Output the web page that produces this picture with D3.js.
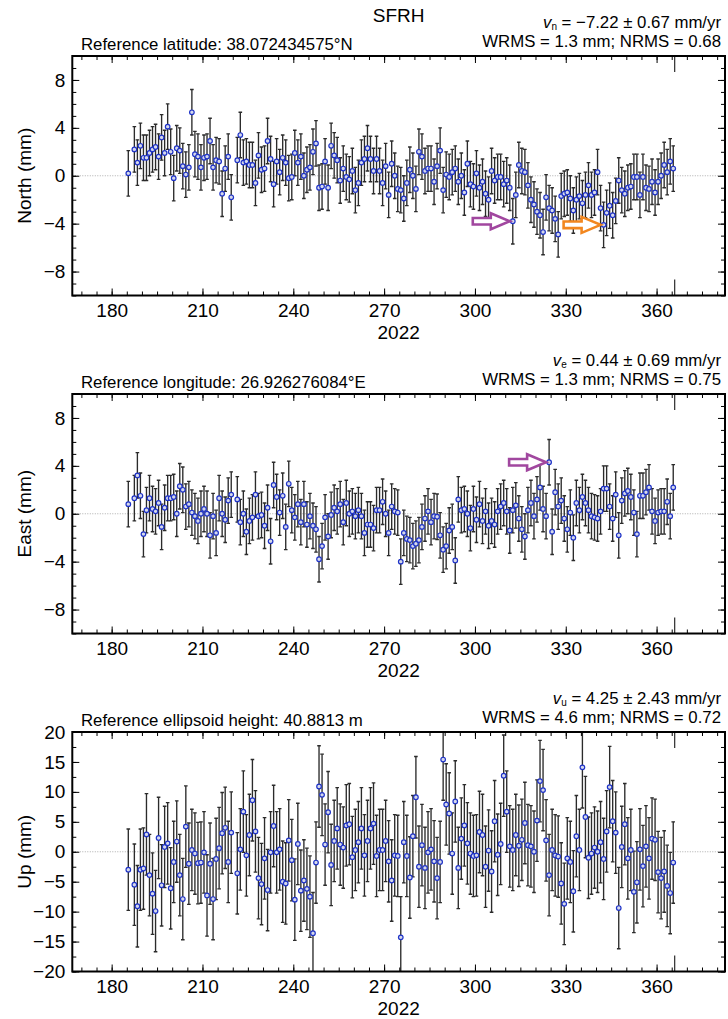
<!DOCTYPE html>
<html>
<head>
<meta charset="utf-8">
<script src="https://cdn.jsdelivr.net/npm/d3@7"></script>
<style>
  body { margin: 0; background: #fff; }
  text { font-family: "Liberation Sans", Arial, Helvetica, sans-serif; }
</style>
</head>
<body>
<div id="chart"></div>
<script>
// daily solutions, first value is day 185 of 2022 (null = no solution that day)
var startDay = 185;

var north = [
  0.2, null, 2.2, 1.1, 2.5, 1.5, 1.5, 1.9, 2.2, 2.4,
  1.6, 3.2, 1.9, 4.1, 2.0, -0.2, 2.3, 2.1, 0.8, 0.1,
  0.7, 5.3, 1.8, 1.6, 0.7, 1.5, 1.6, 2.9, 0.7, 1.3,
  1.2, -1.5, 0.6, 1.6, -1.8, null, 1.3, 3.4, 1.1, 1.2,
  0.9, 0.9, -0.6, 1.7, 0.5, 0.6, 2.9, 1.4, -0.7, 1.2,
  0.3, 1.5, 1.1, -0.2, -0.1, 1.9, 1.1, 1.6, 0.0, 0.5,
  0.7, 2.0, 2.7, -1.0, -0.9, 1.2, -1.0, 2.5, 1.7, 1.3,
  -0.4, 0.6, -0.1, -0.3, 0.4, -1.2, -0.6, 1.1, 1.4, 2.3,
  1.4, 0.4, 1.4, 0.4, -0.6, 0.8, -1.6, 1.0, 0.0, -1.1,
  -1.2, -1.9, -0.6, 0.5, 0.0, -1.1, 2.0, 1.6, 0.4, 0.6,
  0.6, -0.5, 0.8, 2.1, -1.2, 0.1, -0.1, 0.3, 0.6, -0.5,
  0.0, -1.4, 1.0, -0.7, -0.9, 0.2, -1.0, -0.5, -1.5, -2.0,
  0.4, -0.4, -0.1, -0.1, -0.7, -0.4, -1.0, -3.8, -1.6, 0.9,
  0.4, 0.3, -0.8, -2.0, -2.4, -3.0, -3.3, -4.7, -1.8, -2.7,
  -2.9, -3.6, -4.9, -1.7, -1.5, -1.4, -1.9, -2.9, -2.0, -1.7,
  -2.3, -1.6, -0.8, -1.6, -1.4, 0.3, -2.7, -4.1, -3.1, -2.5,
  -3.3, -2.1, -0.4, -1.2, -1.5, -1.0, -0.9, -0.1, -0.1, -1.6,
  -0.1, -1.0, -1.1, -0.5, -1.4, -0.5, 0.0, 0.9, 0.3, 1.2,
  0.6
];

var east = [
  0.8, null, 1.3, 3.2, 1.5, -1.7, 0.3, 1.3, 0.4, 0.2,
  0.9, -1.1, 0.5, 1.3, 1.3, 1.4, 0.0, 2.3, 2.0, 0.6,
  0.8, 0.1, -0.2, -0.6, 0.0, 0.4, 0.0, -1.8, -0.2, -1.6,
  1.3, 0.0, -0.5, 1.1, 1.6, null, 1.2, -0.7, 0.0, -1.5,
  -0.6, -0.3, 1.6, -0.2, -0.1, -1.0, 0.5, -2.3, 2.4, 1.4,
  0.1, 1.5, -1.1, 2.5, 0.3, -0.3, 0.8, -0.7, 0.8, -0.9,
  -0.2, -1.0, -1.3, -3.8, -2.7, -0.3, -1.9, -0.1, 0.5, 0.2,
  0.8, -0.7, 0.9, 0.0, 0.2, -0.2, 0.3, -0.2, -1.6, -0.9,
  -0.9, -1.2, 0.3, 0.3, 1.0, 0.0, -1.6, 0.6, 0.2, 0.1,
  -4.0, -1.6, -2.1, -2.2, -2.7, -2.5, -2.2, -1.1, -0.4, 0.2,
  -0.7, -0.2, -0.25, -1.8, -3.0, -2.7, -1.4, -1.1, -3.9, 1.2,
  0.3, 0.4, 0.0, -1.2, 0.4, -0.5, 0.8, -0.6, 0.2, -1.0,
  -0.6, -0.9, 0.2, 0.6, 0.9, 0.2, -1.4, 0.3, 0.7, -0.4,
  -1.3, -1.9, 0.3, 0.9, -0.2, 1.2, 2.2, 0.4, -0.2, 4.3,
  -1.5, 1.8, 0.6, 1.1, -0.4, -1.3, 0.1, -2.0, 0.9, 0.3,
  1.4, 0.9, 0.3, -0.2, -0.3, -0.4, 0.2, 2.1, 2.1, 0.6,
  -0.4, 1.6, -1.8, 1.1, 1.7, 1.9, 1.4, 0.1, -1.7, 1.5,
  1.5, 1.8, 2.2, 0.2, -0.6, 0.1, 0.2, 0.2, 1.0, -0.2,
  2.2
];

var up = [
  -3.0, null, -5.5, -9.1, -3.0, -2.8, 2.9, -3.9, -7.0, -9.9,
  2.3, -5.6, 0.8, 1.4, -6.1, -1.7, 1.7, -3.9, -7.9, 4.2,
  -2.0, 0.3, -0.3, -1.9, -1.8, -0.1, -7.3, -2.0, -7.9, -1.2,
  0.6, 3.1, 4.0, -1.7, 3.2, null, -3.6, 0.4, 6.7, -0.6,
  2.8, 8.6, 3.4, -4.4, -5.4, -1.1, -6.4, -0.1, 4.3, -0.1,
  0.4, -5.0, -5.3, 1.9, -1.4, -8.0, 1.3, -6.5, -4.8, -6.2,
  -7.5, -13.6, -1.8, 10.9, 9.5, 1.2, 6.6, -2.2, 1.8, 3.9,
  1.2, 0.7, 4.4, 4.6, -0.9, 0.3, 1.6, 3.9, -0.6, 1.8,
  3.9, 4.7, -0.7, 0.3, 0.3, 1.8, -1.6, -4.8, -0.6, -0.7,
  -14.3, 1.6, -0.7, -4.3, 2.6, 9.1, -2.5, 1.1, -2.7, -0.1,
  0.4, -1.6, -4.4, -1.7, 15.4, 7.9, 6.4, -0.3, 8.4, -2.7,
  2.2, 4.4, 1.4, -0.3, -0.7, -0.6, 3.3, 2.8, -2.5, 0.2,
  -3.3, 5.1, -0.5, 1.3, 12.7, 6.7, 0.9, 0.3, 2.8, 1.0,
  2.0, 4.8, 1.1, 0.9, 0.0, 5.2, 11.8, 10.3, 1.9, -3.9,
  0.3, -0.6, -0.8, -5.3, -8.7, -1.1, -1.7, -6.6, 2.6, 0.3,
  14.1, 5.8, -1.0, -0.3, 0.7, 0.0, 1.6, -1.2, 3.4, 10.8,
  5.1, 3.2, -9.4, 0.8, 4.6, -1.1, 0.3, -6.7, -5.1, 0.4,
  -2.4, 0.9, -1.1, 2.2, 2.0, -3.4, -4.4, -3.3, -5.7, -6.9,
  -1.8
];

// typical 1-sigma of each component (mm)
var northSigma = 1.9;
var eastSigma = 1.9;
var upSigma = 6.8;

// axis ticks
var xTicks = [180, 210, 240, 270, 300, 330, 360];
var xMinorTicks = d3.range(170, 385, 5);
var neTicks = [-8, -4, 0, 4, 8];
var neMinorTicks = d3.range(-10, 11, 1);
var upTicks = [-20, -15, -10, -5, 0, 5, 10, 15, 20];
var upMinorTicks = d3.range(-20, 20.1, 2.5);
var yearEnd = 366;

// header texts
var stationName = "SFRH";
var panels = [
  {id: "n", values: north, sigma: northSigma, min: -10, max: 10, ticks: neTicks, minor: neMinorTicks,
   label: "North (mm)", ref: "Reference latitude: 38.072434575°N",
   comp: "n", rate: " = −7.22 ± 0.67 mm/yr", rms: "WRMS = 1.3 mm; NRMS = 0.68"},
  {id: "e", values: east, sigma: eastSigma, min: -10, max: 10, ticks: neTicks, minor: neMinorTicks,
   label: "East (mm)", ref: "Reference longitude: 26.926276084°E",
   comp: "e", rate: " = 0.44 ± 0.69 mm/yr", rms: "WRMS = 1.3 mm; NRMS = 0.75"},
  {id: "u", values: up, sigma: upSigma, min: -20, max: 20, ticks: upTicks, minor: upMinorTicks,
   label: "Up (mm)", ref: "Reference ellipsoid height: 40.8813 m",
   comp: "u", rate: " = 4.25 ± 2.43 mm/yr", rms: "WRMS = 4.6 mm; NRMS = 0.72"}
];

// marked points (arrows)
var arrows = [
  {panel: 0, day: 312, color: "#a1479f"},
  {panel: 0, day: 342, color: "#f2871f"},
  {panel: 1, day: 324, color: "#a1479f"}
];

//**************************************************************

var width = 728, height = 1019;
var plotLeft = 72.3, plotRight = 725, plotHeight = 239.5;
var firstTop = 56, panelStep = 338;

var svg = d3.select("#chart")
  .append("svg")
  .attr("width", width)
  .attr("height", height);

var x = d3.scaleLinear()
  .domain([167, 382.6])
  .range([plotLeft, plotRight]);

// title
svg.append("text")
  .attr("x", (plotLeft + plotRight) / 2)
  .attr("y", 21.7)
  .attr("text-anchor", "middle")
  .style("font-size", "19px")
  .text(stationName);

function styleAxis(g, size) {
  g.select(".domain").remove();
  g.selectAll(".tick line").attr("stroke", "#000").attr("stroke-width", 1);
  g.attr("font-family", null).attr("font-size", size);
  g.selectAll("text").attr("fill", "#000");
}

panels.forEach(function(p, pi) {
  var top = firstTop + pi * panelStep;
  var bottom = top + plotHeight;

  var y = d3.scaleLinear()
    .domain([p.min, p.max])
    .range([bottom, top]);

  var g = svg.append("g");

  g.append("clipPath")
    .attr("id", "clip-" + p.id)
    .append("rect")
    .attr("x", plotLeft)
    .attr("y", top)
    .attr("width", plotRight - plotLeft)
    .attr("height", plotHeight);

  var data = p.values
    .map(function(v, i) { return {day: startDay + i, v: v}; })
    .filter(function(d) { return d.v !== null; });

  var plot = g.append("g").attr("clip-path", "url(#clip-" + p.id + ")");

  // zero line
  plot.append("line")
    .attr("x1", plotLeft).attr("x2", plotRight)
    .attr("y1", y(0)).attr("y2", y(0))
    .attr("stroke", "#9a9a9a")
    .attr("stroke-width", 0.8)
    .attr("stroke-dasharray", "1,1.5");

  // error bars
  var bars = plot.selectAll("g.bar")
    .data(data)
    .enter()
    .append("g")
    .attr("stroke", "#2b2b2b")
    .attr("stroke-width", 1.35);

  bars.append("line")
    .attr("x1", d => x(d.day + 0.5))
    .attr("x2", d => x(d.day + 0.5))
    .attr("y1", d => y(d.v - p.sigma))
    .attr("y2", d => y(d.v + p.sigma));

  bars.append("line")
    .attr("x1", d => x(d.day + 0.5) - 1.8)
    .attr("x2", d => x(d.day + 0.5) + 1.8)
    .attr("y1", d => y(d.v + p.sigma))
    .attr("y2", d => y(d.v + p.sigma));

  bars.append("line")
    .attr("x1", d => x(d.day + 0.5) - 1.8)
    .attr("x2", d => x(d.day + 0.5) + 1.8)
    .attr("y1", d => y(d.v - p.sigma))
    .attr("y2", d => y(d.v - p.sigma));

  // dots
  plot.selectAll("circle")
    .data(data)
    .enter()
    .append("circle")
    .attr("cx", d => x(d.day + 0.5))
    .attr("cy", d => y(d.v))
    .attr("r", 2.3)
    .attr("fill", "#d4d8ea")
    .attr("stroke", "#1f33c8")
    .attr("stroke-width", 1.2);

  // axes, ticks pointing inward on all four sides
  var fmt = d3.format("d");
  g.append("g")
    .attr("transform", "translate(0," + bottom + ")")
    .call(d3.axisBottom(x).tickValues(xTicks).tickSize(-7).tickPadding(8.5).tickFormat(fmt))
    .call(styleAxis, 19);
  g.append("g")
    .attr("transform", "translate(0," + bottom + ")")
    .call(d3.axisBottom(x).tickValues(xMinorTicks).tickSize(-4).tickFormat(""))
    .call(styleAxis, 19);
  g.append("g")
    .attr("transform", "translate(0," + top + ")")
    .call(d3.axisTop(x).tickValues(xTicks).tickSize(-7).tickFormat(""))
    .call(styleAxis, 19);
  g.append("g")
    .attr("transform", "translate(0," + top + ")")
    .call(d3.axisTop(x).tickValues(xMinorTicks).tickSize(-4).tickFormat(""))
    .call(styleAxis, 19);

  g.append("g")
    .attr("transform", "translate(" + plotLeft + ",0)")
    .call(d3.axisLeft(y).tickValues(p.ticks).tickSize(-7).tickPadding(7).tickFormat(fmt))
    .call(styleAxis, 19);
  g.append("g")
    .attr("transform", "translate(" + plotLeft + ",0)")
    .call(d3.axisLeft(y).tickValues(p.minor).tickSize(-4).tickFormat(""))
    .call(styleAxis, 19);
  g.append("g")
    .attr("transform", "translate(" + plotRight + ",0)")
    .call(d3.axisRight(y).tickValues(p.ticks).tickSize(-7).tickFormat(""))
    .call(styleAxis, 19);
  g.append("g")
    .attr("transform", "translate(" + plotRight + ",0)")
    .call(d3.axisRight(y).tickValues(p.minor).tickSize(-4).tickFormat(""))
    .call(styleAxis, 19);

  // year boundary marks
  g.append("line")
    .attr("x1", x(yearEnd)).attr("x2", x(yearEnd))
    .attr("y1", top).attr("y2", top + 16)
    .attr("stroke", "#000");
  g.append("line")
    .attr("x1", x(yearEnd)).attr("x2", x(yearEnd))
    .attr("y1", bottom - 16).attr("y2", bottom)
    .attr("stroke", "#000");

  // frame
  g.append("rect")
    .attr("x", plotLeft)
    .attr("y", top)
    .attr("width", plotRight - plotLeft)
    .attr("height", plotHeight)
    .attr("fill", "none")
    .attr("stroke", "#000")
    .attr("stroke-width", 2);

  // y label
  g.append("text")
    .attr("text-anchor", "middle")
    .attr("transform", "translate(31," + (top + plotHeight / 2) + ") rotate(-90)")
    .style("font-size", "19px")
    .text(p.label);

  // x label
  g.append("text")
    .attr("text-anchor", "middle")
    .attr("x", (plotLeft + plotRight) / 2)
    .attr("y", bottom + 43.5)
    .style("font-size", "19px")
    .text("2022");

  // header texts
  g.append("text")
    .attr("x", 81)
    .attr("y", top - 6)
    .style("font-size", "16.8px")
    .text(p.ref);

  var rate = g.append("text")
    .attr("x", 721)
    .attr("y", top - 28.5)
    .attr("text-anchor", "end")
    .style("font-size", "16.8px");
  rate.append("tspan").style("font-style", "italic").text("v");
  rate.append("tspan").attr("dy", 2.5).style("font-size", "10px").text(p.comp);
  rate.append("tspan").attr("dy", -2.5).text(p.rate);

  g.append("text")
    .attr("x", 721)
    .attr("y", top - 9.5)
    .attr("text-anchor", "end")
    .style("font-size", "16.8px")
    .text(p.rms);

  // arrows pointing at marked days
  arrows.filter(a => a.panel === pi).forEach(function(a) {
    var v = p.values[a.day - startDay];
    var tx = x(a.day + 0.5) - 3, ty = y(v);
    var len = 37, head = 19, sh = 3.3, hh = 8;
    var path = d3.path();
    path.moveTo(tx - len, ty - sh);
    path.lineTo(tx - head, ty - sh);
    path.lineTo(tx - head, ty - hh);
    path.lineTo(tx, ty);
    path.lineTo(tx - head, ty + hh);
    path.lineTo(tx - head, ty + sh);
    path.lineTo(tx - len, ty + sh);
    path.closePath();
    g.append("path")
      .attr("d", path.toString())
      .attr("fill", "#fff")
      .attr("stroke", a.color)
      .attr("stroke-width", 2.6)
      .attr("stroke-linejoin", "miter");
  });
});
</script>
</body>
</html>
